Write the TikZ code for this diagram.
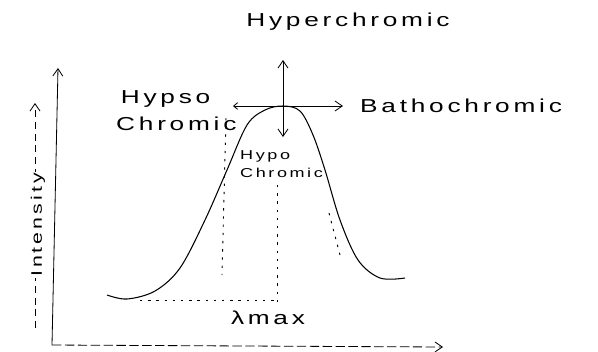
\documentclass[tikz,border=0pt]{standalone}
\usepackage{fontspec}
\setmainfont{Liberation Sans}
\newfontfamily\hand[FakeStretch=1.4,LetterSpace=20]{Liberation Sans}
\usetikzlibrary{arrows.meta}

\begin{document}
\begin{tikzpicture}[
  x=0.03cm, y=-0.03cm,
  axis/.style={draw, line width=0.7pt, -{Straight Barb[length=2.2mm, width=3mm]}},
  shiftarr/.style={draw, line width=0.7pt, -{Straight Barb[length=2.2mm, width=3mm]}},
  guide/.style={draw, line width=0.8pt, dash pattern=on 2pt off 5pt},
  band/.style={draw, line width=0.9pt},
  lbl/.style={font=\hand\fontsize{16}{23}\selectfont, inner sep=0pt, align=left},
  small/.style={font=\hand\fontsize{11}{16}\selectfont, inner sep=0pt, align=left},
]
\useasboundingbox (0,0) rectangle (598,351);

% axes
\coordinate (O) at (52,345);
\coordinate (ytop) at (58,68);
\coordinate (xend) at (443,347);
\draw[axis] (O) -- (ytop);
\draw[axis, dash pattern=on 8pt off 3pt] (O) -- (xend);
\coordinate (ilo) at (35,328);
\coordinate (ihi) at (35,103);
\draw[axis, dash pattern=on 6pt off 4pt] (ilo) -- (ihi);
\node[lbl, font=\hand\fontsize{13}{15}\selectfont, rotate=90, fill=white, inner sep=1pt] (inten) at (38,225) {Intensity};

% absorption band
\draw[band] plot[smooth, tension=0.55] coordinates {
  (107,295) (127,299) (155,291) (180,268) (205,220) (227,170) (247,125)
  (265,110) (283,106) (300,111) (313,135) (325,170) (340,220) (358,260)
  (380,278) (405,278)};

% shifts at the peak
\coordinate (peak) at (283,106);
\coordinate (upend) at (283,60);
\coordinate (downend) at (283,137);
\coordinate (leftend) at (233,106);
\coordinate (rightend) at (343,106);
\draw[shiftarr] (peak) -- (upend);
\draw[shiftarr] (peak) -- (downend);
\draw[shiftarr, {Straight Barb[length=1.2mm, width=2mm]}-{Straight Barb[length=2.2mm, width=3mm]}] (leftend) -- (rightend);

% guide lines
\draw[guide] (226,118) -- (222,275);
\draw[guide] (277,185) -- (277,303);
\draw[guide] (140,300) -- (277,300);
\draw[guide] (329,213) -- (340,255);

% labels
\node[lbl] (hyper) at (348,22) {Hyperchromic};
\node[lbl, anchor=west] (batho) at (360,106) {Bathochromic};
\node[lbl, anchor=north west] (hypso) at (116,90) {\hspace*{4pt}Hypso\\Chromic};
\node[small, anchor=north west] (hypo) at (240,150) {Hypo\\Chromic};
\node[lbl] (lmax) at (268,318) {λmax};
\end{tikzpicture}
\end{document}
